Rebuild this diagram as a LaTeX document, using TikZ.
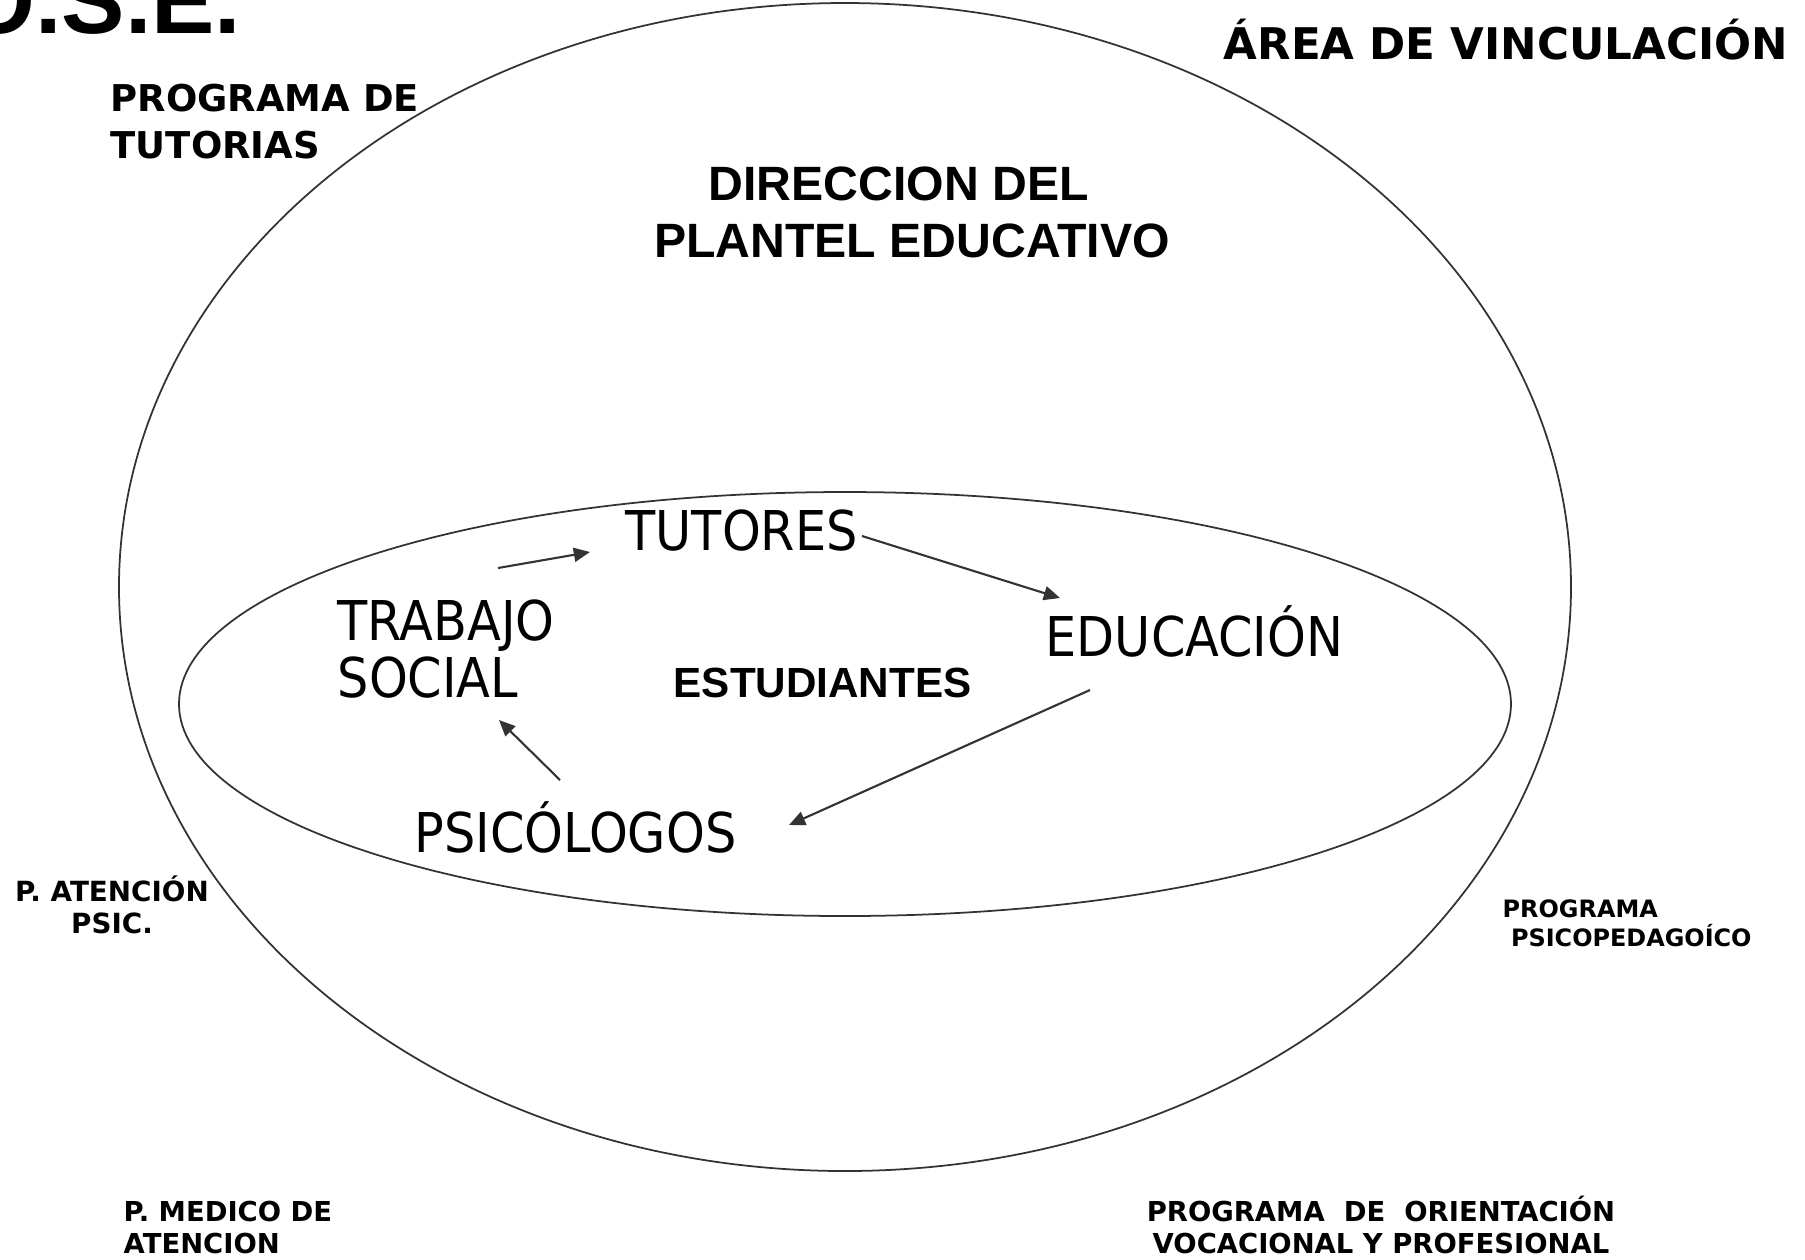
\documentclass[tikz,border=0pt]{standalone}
\usepackage{fontspec}
\setmainfont{Liberation Sans}
\newfontfamily\verdfont{DejaVu Sans}
\newfontfamily\tahofont{DejaVu Sans Condensed}
\usetikzlibrary{arrows.meta}
\definecolor{ink}{HTML}{333333}

\begin{document}
\begin{tikzpicture}[x=0.01cm,y=-0.01cm]
      \tikzstyle{corner}=[inner sep=0pt, align=left,
        font=\verdfont\bfseries\fontsize{7.8pt}{8.9pt}\selectfont];
      \tikzstyle{role}=[inner sep=0pt, align=left, anchor=base west,
        font=\tahofont\fontsize{15.6pt}{16.2pt}\selectfont];
      \tikzstyle{flow}=[draw=ink, line width=0.6pt,
        -{Triangle[length=4.6pt,width=4pt]}];
      \useasboundingbox (0,0) rectangle (1805,1259);
      % the two rings
      \draw[ink, line width=0.5pt] (845,587) ellipse (726 and 584);
      \draw[ink, line width=0.5pt] (845,704) ellipse (666 and 212);
      % titles
      \node[inner sep=0pt, anchor=base east,
        font=\bfseries\fontsize{27pt}{30pt}\selectfont] (ose) at (242,33) {O.S.E.};
      \node[inner sep=0pt, anchor=base, align=center,
        font=\bfseries\fontsize{13.7pt}{16.2pt}\selectfont] (direccion) at (912,257)
        {DIRECCION DEL\phantom{II}\\PLANTEL EDUCATIVO};
      \node[inner sep=0pt, anchor=base west,
        font=\bfseries\fontsize{12pt}{14pt}\selectfont] (estudiantes) at (673,697) {ESTUDIANTES};
      % corner programmes
      \node[corner, anchor=base west, font=\verdfont\bfseries\fontsize{10.5pt}{13.1pt}\selectfont]
        (tutorias) at (110,158) {PROGRAMA DE\\TUTORIAS};
      \node[corner, anchor=base west, font=\verdfont\bfseries\fontsize{12.4pt}{14pt}\selectfont]
        (vinculacion) at (1223,59) {ÁREA DE VINCULACIÓN};
      \node[corner, anchor=base, align=center, font=\verdfont\bfseries\fontsize{7.9pt}{9.1pt}\selectfont]
        (atencion) at (112,933) {P. ATENCIÓN\\PSIC.};
      \node[corner, anchor=base west, font=\verdfont\bfseries\fontsize{6.8pt}{8pt}\selectfont]
        (psicoped) at (1502,946) {PROGRAMA\\\hspace*{0.35em}PSICOPEDAGOÍCO};
      \node[corner, anchor=base west] (medico) at (123,1253) {P. MEDICO DE\\ATENCION};
      \node[corner, anchor=base, align=center] (orientacion) at (1381,1253)
        {PROGRAMA\ \ DE\ \ ORIENTACIÓN\\VOCACIONAL Y PROFESIONAL};
      % the cycle
      \node[role] (tutores) at (625,550) {TUTORES};
      \node[role] (trabajo) at (337,697) {TRABAJO\\SOCIAL};
      \node[role] (educacion) at (1045,656) {EDUCACIÓN};
      \node[role] (psicologos) at (414,852) {PSICÓLOGOS};
      \coordinate (trabajo-out) at (498,568);
      \coordinate (tutores-in) at (590,552);
      \coordinate (tutores-out) at (862,536);
      \coordinate (educacion-in) at (1060,598);
      \coordinate (educacion-out) at (1090,690);
      \coordinate (psicologos-in) at (789,825);
      \coordinate (psicologos-out) at (560,780);
      \coordinate (trabajo-in) at (499,720);
      \draw[flow] (trabajo-out) -- (tutores-in);
      \draw[flow] (tutores-out) -- (educacion-in);
      \draw[flow] (educacion-out) -- (psicologos-in);
      \draw[flow] (psicologos-out) -- (trabajo-in);
\end{tikzpicture}
\end{document}
